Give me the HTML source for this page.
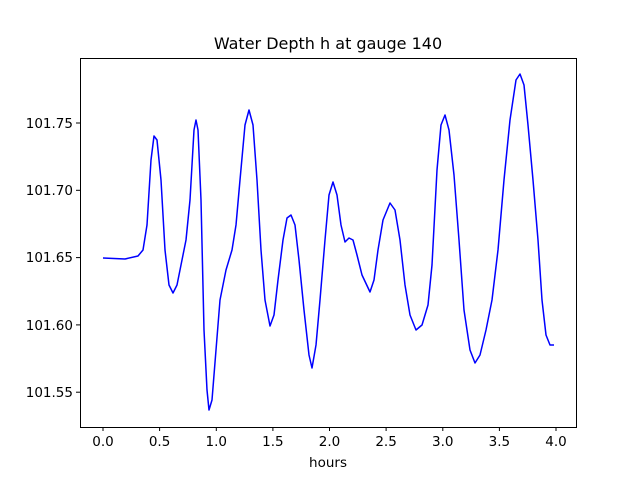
<!DOCTYPE html>
<html><head><meta charset="utf-8"><style>
body{margin:0;background:#fff}
svg text{font-family:"DejaVu Sans","Liberation Sans",sans-serif;font-size:13.5px;fill:#000}
</style></head><body>
<svg width="640" height="480" xmlns="http://www.w3.org/2000/svg">
<rect width="640" height="480" fill="#fff"/>
<text x="328" y="49" text-anchor="middle" style="font-size:16px">Water Depth h at gauge 140</text>
<polyline fill="none" stroke="#0000ff" stroke-width="1.5" stroke-linejoin="round" points="103,258 125,259 138,256 143,250 147,225 151,160 154,136 157,140 161,180 165,250 169,285 173,293 177,285 181,265 186,240 190,200 194,130 196,120 198,130 201,200 204,330 207,390 209,410 212,400 216,350 220,300 226,270 232,250 236,225 240,180 245,125 249,110 253,125 257,180 261,250 265,300 270,326 274,315 278,280 283,240 287,218 291,215 295,225 299,260 304,310 309,355 312,368 316,345 320,300 325,240 329,195 333,182 337,195 341,225 345,242 349,238 353,240 357,255 362,275 370,292 374,280 378,250 383,220 390,203 395,210 400,240 405,285 410,315 416,330 422,325 428,305 432,265 437,170 441,125 445,115 449,130 454,175 459,240 464,310 470,350 475,363 480,355 486,330 492,300 498,250 504,180 510,120 516,80 520,74 524,85 528,125 533,180 538,240 542,300 546,335 550,345 554,345"/>
<rect x="80.5" y="58.5" width="496" height="369" fill="none" stroke="#000" stroke-width="1"/>
<g stroke="#000">
<line x1="103" y1="427" x2="103" y2="431"/><line x1="159.6" y1="427" x2="159.6" y2="431"/><line x1="216.3" y1="427" x2="216.3" y2="431"/><line x1="272.9" y1="427" x2="272.9" y2="431"/><line x1="329.5" y1="427" x2="329.5" y2="431"/><line x1="386.1" y1="427" x2="386.1" y2="431"/><line x1="442.8" y1="427" x2="442.8" y2="431"/><line x1="499.4" y1="427" x2="499.4" y2="431"/><line x1="556" y1="427" x2="556" y2="431"/>
<line x1="76" y1="123" x2="80" y2="123"/><line x1="76" y1="190.3" x2="80" y2="190.3"/><line x1="76" y1="257.6" x2="80" y2="257.6"/><line x1="76" y1="324.9" x2="80" y2="324.9"/><line x1="76" y1="392.2" x2="80" y2="392.2"/>
</g>
<g text-anchor="middle">
<text x="103" y="446">0.0</text><text x="159.6" y="446">0.5</text><text x="216.3" y="446">1.0</text><text x="272.9" y="446">1.5</text><text x="329.5" y="446">2.0</text><text x="386.1" y="446">2.5</text><text x="442.8" y="446">3.0</text><text x="499.4" y="446">3.5</text><text x="556" y="446">4.0</text>
<text x="328" y="467">hours</text>
</g>
<g text-anchor="end">
<text x="73" y="128">101.75</text><text x="73" y="195">101.70</text><text x="73" y="262">101.65</text><text x="73" y="330">101.60</text><text x="73" y="397">101.55</text>
</g>
</svg>
</body></html>
